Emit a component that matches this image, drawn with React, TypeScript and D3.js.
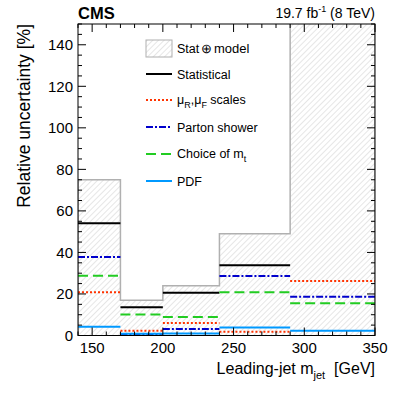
import React from "react";
import * as d3 from "d3";

const binEdges = [140, 170, 200, 240, 290, 350];
const statModel = [75, 17, 24, 49, 160];
const statistical: (number | null)[] = [54, 13.6, 20.6, 33.8, null];
const scales = [20.8, 2.3, 6.0, 1.8, 26.3];
const partonShower = [37.8, 0.6, 3.1, 28.6, 18.7];
const choiceMt = [28.8, 10.1, 8.9, 20.8, 15.5];
const pdf = [4.2, 0.8, 1.0, 3.8, 2.3];
const xTicks = [150, 200, 250, 300, 350];
const yTicks = [0, 20, 40, 60, 80, 100, 120, 140];

const W = 399, H = 399;
const L = 78, R = 375, T = 24, B = 335.5;
const FONT = "'Liberation Sans', Arial, Helvetica, sans-serif";

export default function App() {
  const x = d3.scaleLinear().domain([140, 350]).range([L, R]);
  const y = d3.scaleLinear().domain([0, 150]).range([B, T]);

  const bins = d3.range(binEdges.length - 1).map((i) => ({ x0: binEdges[i], x1: binEdges[i + 1] }));

  const outline = d3.path();
  outline.moveTo(x(binEdges[0]), y(0));
  bins.forEach((b, i) => {
    outline.lineTo(x(b.x0), y(statModel[i]));
    outline.lineTo(x(b.x1), y(statModel[i]));
  });
  outline.lineTo(x(binEdges[binEdges.length - 1]), y(0));

  const series = [
    { name: "Statistical", values: statistical, color: "#000000", dash: undefined as string | undefined, w: 2 },
    { name: "scales", values: scales, color: "#ff3300", dash: "2,2", w: 2 },
    { name: "Parton shower", values: partonShower, color: "#0000cc", dash: "7,2,2,2", w: 2 },
    { name: "Choice of mt", values: choiceMt, color: "#22cc22", dash: "10,5", w: 2 },
    { name: "PDF", values: pdf, color: "#0099ff", dash: undefined, w: 2 },
  ];

  const xMinor = d3.range(140, 351, 10);
  const yMinor = d3.range(0, 151, 5);

  const legendX0 = 146, legendX1 = 172, legendText = 177;
  const legendYs = [74, 100, 127, 154, 181];
  const LF = 12.5;

  return (
    <svg width={W} height={H} style={{ position: "absolute", left: 0, top: 0, background: "#fff" }}
      fontFamily={FONT}>
      <defs>
        <pattern id="hatch" patternUnits="userSpaceOnUse" width={4} height={4} patternTransform="rotate(45)">
          <line x1={0} y1={0} x2={0} y2={4} stroke="#b8b8b8" strokeWidth={0.7} />
        </pattern>
        <clipPath id="plot">
          <rect x={L} y={T} width={R - L} height={B - T} />
        </clipPath>
      </defs>

      <g clipPath="url(#plot)">
        <path d={outline.toString()} fill="url(#hatch)" stroke="#b0b0b0" strokeWidth={1.5} />
        {series.map((s) =>
          bins.map((b, i) =>
            s.values[i] == null ? null : (
              <line key={s.name + i} x1={x(b.x0)} x2={x(b.x1)} y1={y(s.values[i] as number)} y2={y(s.values[i] as number)}
                stroke={s.color} strokeWidth={s.w} strokeDasharray={s.dash} />
            )
          )
        )}
      </g>

      <rect x={L} y={T} width={R - L} height={B - T} fill="none" stroke="#000" strokeWidth={1} />

      {xMinor.map((v) => {
        const major = v % 50 === 0;
        const len = major ? 8 : 4;
        return (
          <g key={"xt" + v}>
            <line x1={x(v)} x2={x(v)} y1={B} y2={B - len} stroke="#000" />
            <line x1={x(v)} x2={x(v)} y1={T} y2={T + len} stroke="#000" />
          </g>
        );
      })}
      {yMinor.map((v) => {
        const major = v % 20 === 0;
        const len = major ? 8 : 4;
        return (
          <g key={"yt" + v}>
            <line x1={L} x2={L + len} y1={y(v)} y2={y(v)} stroke="#000" />
            <line x1={R} x2={R - len} y1={y(v)} y2={y(v)} stroke="#000" />
          </g>
        );
      })}
      {xTicks.map((v) => (
        <text key={"xl" + v} x={x(v)} y={353} fontSize={15} textAnchor="middle">{v}</text>
      ))}
      {yTicks.map((v) => (
        <text key={"yl" + v} x={73} y={y(v) + 5.5} fontSize={15} textAnchor="end">{v}</text>
      ))}

      <text x={R} y={374} fontSize={16} textAnchor="end">
        Leading-jet m<tspan fontSize={11} dy={5}>jet</tspan><tspan dy={-5}>{"\u00a0"} [GeV]</tspan>
      </text>
      <text transform={`translate(30,${T}) rotate(-90)`} fontSize={17.5} textAnchor="end">Relative uncertainty [%]</text>

      <text x={L} y={19} fontSize={16.5} fontWeight="bold">CMS</text>
      <text x={R} y={18} fontSize={14} textAnchor="end">
        19.7 fb<tspan fontSize={9} dy={-6}>-1</tspan><tspan dy={6}> (8 TeV)</tspan>
      </text>

      <rect x={legendX0} y={40} width={legendX1 - legendX0} height={17} fill="url(#hatch)" stroke="#b0b0b0" strokeWidth={1} />
      <text x={legendText} y={53} fontSize={LF}>Stat</text>
      <text x={206.5} y={53} fontSize={13} textAnchor="middle">⊕</text>
      <text x={214} y={53} fontSize={13}>model</text>
      {series.map((s, i) => (
        <line key={"lg" + i} x1={legendX0} x2={legendX1} y1={legendYs[i]} y2={legendYs[i]}
          stroke={s.color} strokeWidth={s.w} strokeDasharray={s.dash} />
      ))}
      <text x={legendText} y={legendYs[0] + 5} fontSize={LF}>Statistical</text>
      <text x={legendText} y={legendYs[1] + 4} fontSize={LF}>
        μ<tspan fontSize={9} dy={4}>R</tspan><tspan dy={-4}>,μ</tspan><tspan fontSize={9} dy={4}>F</tspan><tspan dy={-4}> scales</tspan>
      </text>
      <text x={legendText} y={legendYs[2] + 5} fontSize={LF}>Parton shower</text>
      <text x={legendText} y={legendYs[3] + 4} fontSize={LF}>
        Choice of m<tspan fontSize={9} dy={4}>t</tspan>
      </text>
      <text x={legendText} y={legendYs[4] + 5} fontSize={LF}>PDF</text>
    </svg>
  );
}
